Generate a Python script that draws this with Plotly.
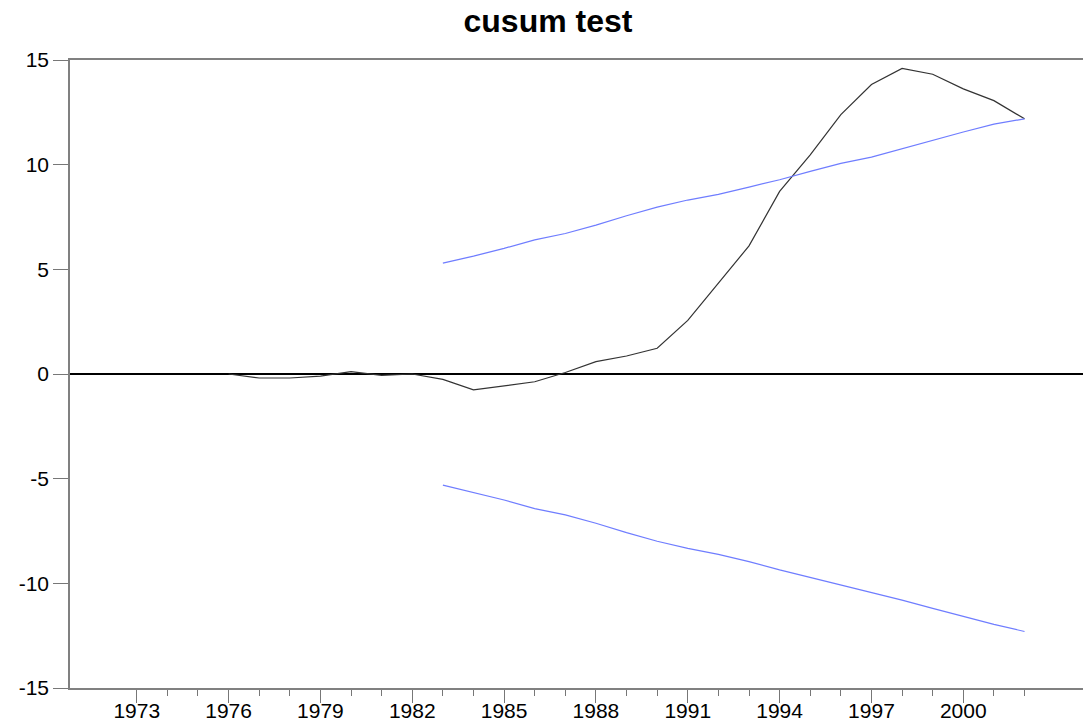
import plotly.graph_objects as go

# CUSUM statistic (annual)
cusum_years = list(range(1976, 2003))
cusum_vals = [0.0, -0.19, -0.19, -0.10, 0.11, -0.07, 0.0, -0.26, -0.76, -0.57,
              -0.37, 0.07, 0.59, 0.86, 1.23, 2.56, 4.32, 6.12, 8.72, 10.47,
              12.39, 13.83, 14.60, 14.32, 13.62, 13.06, 12.19]

# 5% significance bounds
bound_years = list(range(1983, 2003))
upper_vals = [5.30, 5.63, 6.00, 6.41, 6.71, 7.11, 7.56, 7.97, 8.31, 8.58,
              8.93, 9.28, 9.68, 10.06, 10.36, 10.77, 11.18, 11.56, 11.94, 12.19]
lower_vals = [-5.31, -5.65, -6.02, -6.43, -6.73, -7.13, -7.58, -7.99, -8.33, -8.62,
              -8.96, -9.36, -9.72, -10.10, -10.44, -10.80, -11.20, -11.58, -11.96, -12.30]

major_ticks = list(range(1973, 2001, 3))
minor_ticks = list(range(1974, 2003))
y_ticks = [-15, -10, -5, 0, 5, 10, 15]
x_range = [1970.82, 2003.91]

fig = go.Figure()
fig.add_trace(go.Scatter(x=cusum_years, y=cusum_vals, mode="lines",
                         line=dict(color="#333333", width=1.2), name="CUSUM"))
fig.add_trace(go.Scatter(x=bound_years, y=upper_vals, mode="lines",
                         line=dict(color="#6f7dff", width=1.2), name="upper"))
fig.add_trace(go.Scatter(x=bound_years, y=lower_vals, mode="lines",
                         line=dict(color="#6f7dff", width=1.2), name="lower"))

font_family = "Liberation Sans, Arial, Helvetica, sans-serif"
tick_col = "#777777"
fig.update_layout(
    width=1083, height=723,
    margin=dict(l=70, r=0, t=60, b=35, autoexpand=False),
    paper_bgcolor="white", plot_bgcolor="white",
    showlegend=False,
    font=dict(family=font_family, size=21, color="black"),
    title=dict(text="<b>cusum test</b>", x=0.506, xanchor="center",
               y=0.971, yanchor="middle", font=dict(size=32, color="black")),
)
fig.update_xaxes(
    range=x_range,
    tickmode="array", tickvals=major_ticks,
    ticktext=[str(v) for v in major_ticks],
    ticks="outside", ticklen=13, tickwidth=1.2, tickcolor=tick_col,
    showline=True, linecolor="#808080", linewidth=1.6, mirror=True,
    showgrid=False, zeroline=False, automargin=False,
    minor=dict(tickvals=minor_ticks, ticks="outside", ticklen=6,
               tickwidth=1.2, tickcolor=tick_col, showgrid=False),
    tickfont=dict(size=21),
    ticklabelstandoff=-10,
)
fig.update_yaxes(
    range=[-15, 15],
    tickmode="array", tickvals=y_ticks,
    ticktext=[str(v) for v in y_ticks],
    ticks="outside", ticklen=15, tickwidth=1.2, tickcolor=tick_col,
    showline=True, linecolor="#808080", linewidth=1.6,
    showgrid=False, automargin=False,
    zeroline=True, zerolinecolor="black", zerolinewidth=1.5,
    tickfont=dict(size=21),
)

fig.write_html(
    "out.html",
    config={"displayModeBar": False},
    post_script="document.body.style.margin='0';document.body.style.overflow='hidden';",
)
